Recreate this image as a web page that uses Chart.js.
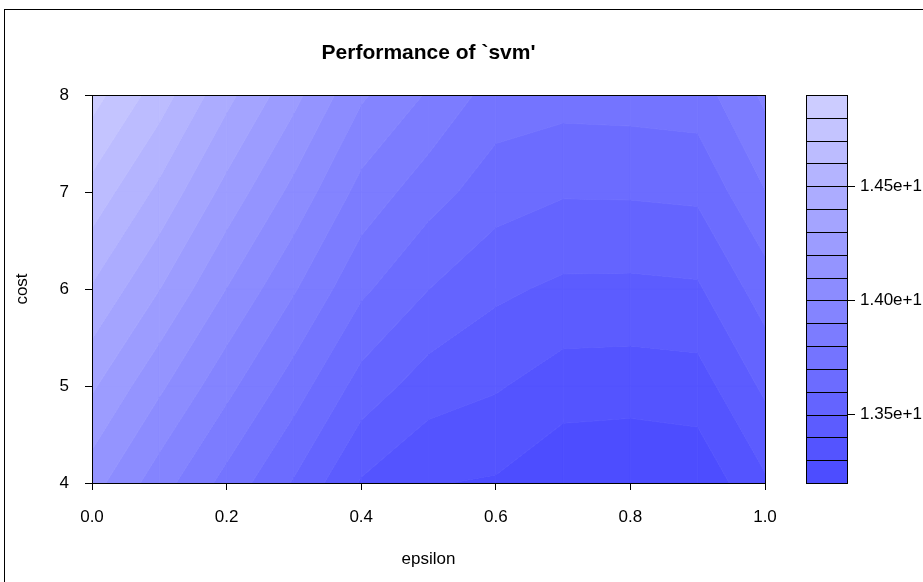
<!DOCTYPE html>
<html><head><meta charset="utf-8">
<script src="https://cdn.jsdelivr.net/npm/chart.js@4/dist/chart.umd.min.js"></script>
<style>
html,body{margin:0;padding:0;background:#fff;overflow:hidden;}
#wrap{position:relative;width:923px;height:582px;overflow:hidden;}
#frame{position:absolute;left:4px;top:9px;width:1000px;height:1000px;border-left:1px solid #000;border-top:1px solid #000;pointer-events:none;}
canvas{position:absolute;left:0;top:0;}
</style></head><body>
<div id="wrap"><canvas id="c" width="923" height="582"></canvas><div id="frame"></div></div>
<script>
// ---- data ----
const epsilon = [0, 0.1, 0.2, 0.3, 0.4, 0.5, 0.6, 0.7, 0.8, 0.9, 1.0];
const cost = [4, 5, 6, 7, 8];
const perfCost4 = [14.14, 13.945, 13.765, 13.59, 13.39, 13.305, 13.29, 13.22, 13.21, 13.225, 13.385];
const perfCost5 = [14.315, 14.12, 13.93, 13.75, 13.56, 13.45, 13.41, 13.35, 13.345, 13.355, 13.52];
const perfCost6 = [14.49, 14.302, 14.098, 13.91, 13.72, 13.601, 13.52, 13.48, 13.478, 13.487, 13.65];
const perfCost7 = [14.665, 14.475, 14.265, 14.07, 13.865, 13.742, 13.646, 13.609, 13.611, 13.62, 13.797];
const perfCost8 = [14.84, 14.65, 14.43, 14.23, 14.015, 13.889, 13.754, 13.737, 13.742, 13.752, 13.92];
const levels = [13.2, 13.3, 13.4, 13.5, 13.6, 13.7, 13.8, 13.9, 14.0, 14.1, 14.2, 14.3, 14.4, 14.5, 14.6, 14.7, 14.8, 14.9];
const xTickValues = [0, 0.2, 0.4, 0.6, 0.8, 1.0];
const yTickValues = [4, 5, 6, 7, 8];
const legendTickValues = [13.5, 14.0, 14.5];
const legendTickLabels = ['1.35e+1', '1.40e+1', '1.45e+1'];
const titleText = "Performance of `svm'";

const grid = [perfCost4, perfCost5, perfCost6, perfCost7, perfCost8];

// hsv palette (h = 2/3, s from 0.7 to 0.2, v = 1)
const nBands = levels.length - 1;
const bandColors = [];
for (let i = 0; i < nBands; i++) {
  const s = 0.7 + (0.2 - 0.7) * i / (nBands - 1);
  const c = Math.floor(255 * (1 - s) + 0.5);
  bandColors.push('rgb(' + c + ',' + c + ',255)');
}

const FONT = "'Liberation Sans', Arial, sans-serif";

const contourPlugin = {
  id: 'filledContour',
  beforeDatasetsDraw(chart) {
    const {ctx, chartArea, scales} = chart;
    const xs = scales.x, ys = scales.y;
    ctx.save();
    ctx.beginPath();
    ctx.rect(chartArea.left, chartArea.top, chartArea.right - chartArea.left, chartArea.bottom - chartArea.top);
    ctx.clip();
    for (let j = 0; j < cost.length - 1; j++) {
      for (let i = 0; i < epsilon.length - 1; i++) {
        const corners = [
          [epsilon[i], cost[j], grid[j][i]],
          [epsilon[i + 1], cost[j], grid[j][i + 1]],
          [epsilon[i + 1], cost[j + 1], grid[j + 1][i + 1]],
          [epsilon[i], cost[j + 1], grid[j + 1][i]]
        ];
        for (let b = 0; b < nBands; b++) {
          const lo = levels[b], hi = levels[b + 1];
          const pts = [];
          for (let k = 0; k < 4; k++) {
            const a = corners[k], c = corners[(k + 1) % 4];
            if (a[2] >= lo && a[2] <= hi) pts.push([a[0], a[1]]);
            const cr = [];
            [lo, hi].forEach(L => {
              if ((a[2] - L) * (c[2] - L) < 0) {
                const t = (L - a[2]) / (c[2] - a[2]);
                cr.push([t, a[0] + t * (c[0] - a[0]), a[1] + t * (c[1] - a[1])]);
              }
            });
            cr.sort((p, q) => p[0] - q[0]);
            cr.forEach(p => pts.push([p[1], p[2]]));
          }
          if (pts.length < 3) continue;
          ctx.beginPath();
          pts.forEach((p, m) => {
            const px = xs.getPixelForValue(p[0]), py = ys.getPixelForValue(p[1]);
            if (m) ctx.lineTo(px, py); else ctx.moveTo(px, py);
          });
          ctx.closePath();
          ctx.fillStyle = bandColors[b];
          ctx.fill();
          ctx.strokeStyle = bandColors[b];
          ctx.lineWidth = 0.8;
          ctx.stroke();
        }
      }
    }
    ctx.restore();
  },
  afterDraw(chart) {
    const {ctx, chartArea, scales} = chart;
    ctx.save();
    // plot frame
    ctx.strokeStyle = '#000';
    ctx.lineWidth = 1;
    ctx.strokeRect(Math.round(chartArea.left) + 0.5, Math.round(chartArea.top) + 0.5,
      Math.round(chartArea.right - chartArea.left), Math.round(chartArea.bottom - chartArea.top));
    // colour key
    const leg = scales.yLeg;
    const xr = Math.round(leg.left) + 0.5;
    const xl = xr - 41;
    for (let b = 0; b < nBands; b++) {
      const yt = Math.round(leg.getPixelForValue(levels[b + 1])) + 0.5;
      const yb = Math.round(leg.getPixelForValue(levels[b])) + 0.5;
      ctx.fillStyle = bandColors[b];
      ctx.fillRect(xl, yt, xr - xl, yb - yt);
      ctx.strokeStyle = '#000';
      ctx.strokeRect(xl, yt, xr - xl, yb - yt);
    }
    ctx.restore();
  }
};

const tickFont = {family: FONT, size: 17};

new Chart(document.getElementById('c'), {
  type: 'scatter',
  data: {datasets: []},
  plugins: [contourPlugin],
  options: {
    responsive: false,
    animation: false,
    devicePixelRatio: 1,
    layout: {padding: {left: 0, right: 0, top: 0, bottom: 0}},
    plugins: {
      legend: {display: false},
      tooltip: {enabled: false},
      title: {display: false}
    },
    scales: {
      x: {
        type: 'linear', position: 'bottom', min: 0, max: 1,
        afterBuildTicks: s => { s.ticks = xTickValues.map(v => ({value: v})); },
        afterFit: s => { s.height = 99; },
        ticks: {callback: v => Number(v).toFixed(1), color: '#000', font: tickFont, padding: 17, autoSkip: false, maxRotation: 0},
        grid: {drawOnChartArea: false, drawTicks: true, tickLength: 7, color: '#000'},
        border: {display: false},
        title: {display: true, text: 'epsilon', color: '#000', font: tickFont, padding: {top: 0, bottom: 12}}
      },
      xTop: {
        type: 'linear', position: 'top', display: true,
        afterFit: s => { s.height = 95; },
        ticks: {display: false},
        grid: {display: false, drawTicks: false},
        border: {display: false},
        title: {display: true, text: titleText, color: '#000',
          font: {family: FONT, size: 21, weight: 'bold', lineHeight: 1.2},
          padding: {top: 41, bottom: 0}}
      },
      y: {
        type: 'linear', position: 'left', min: 4, max: 8,
        afterBuildTicks: s => { s.ticks = yTickValues.map(v => ({value: v})); },
        afterFit: s => { s.width = 92; },
        ticks: {callback: v => String(v), color: '#000', font: tickFont, padding: 16},
        grid: {drawOnChartArea: false, drawTicks: true, tickLength: 7, color: '#000'},
        border: {display: false},
        title: {display: true, text: 'cost', color: '#000', font: tickFont, padding: {top: 12, bottom: 0}}
      },
      yPad: {
        type: 'linear', position: 'right', weight: 0, display: true,
        afterFit: s => { s.width = 82; },
        ticks: {display: false},
        grid: {display: false, drawTicks: false},
        border: {display: false}
      },
      yLeg: {
        type: 'linear', position: 'right', weight: 5, min: levels[0], max: levels[levels.length - 1],
        afterBuildTicks: s => { s.ticks = legendTickValues.map(v => ({value: v})); },
        afterFit: s => { s.width = 76; },
        ticks: {callback: (v, i) => legendTickLabels[i], color: '#000', font: tickFont, padding: 5},
        grid: {drawOnChartArea: false, drawTicks: true, tickLength: 8, color: '#000'},
        border: {display: false}
      }
    }
  }
});
</script>
</body></html>
